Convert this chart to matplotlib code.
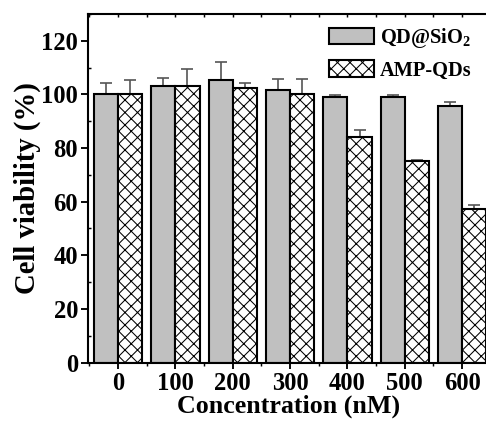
import numpy as np
import matplotlib
matplotlib.use("Agg")
import matplotlib.pyplot as plt
from matplotlib.ticker import MultipleLocator

conc = ["0", "100", "200", "300", "400", "500", "600"]
sio2 = [100.0, 103.3, 105.3, 101.5, 99.0, 99.1, 95.8]
sio2_err = [4.3, 3.0, 6.7, 4.4, 0.6, 0.5, 1.3]
amp = [100.0, 103.3, 102.2, 100.1, 84.2, 75.0, 57.1]
amp_err = [5.3, 6.0, 2.0, 5.8, 2.6, 0.7, 1.5]

plt.rcParams['font.family'] = 'Liberation Serif'
plt.rcParams['font.weight'] = 'bold'
plt.rcParams['mathtext.fontset'] = 'custom'
plt.rcParams['mathtext.bf'] = 'Liberation Serif:bold'
plt.rcParams['mathtext.rm'] = 'Liberation Serif:bold'
plt.rcParams['mathtext.default'] = 'bf'
plt.rcParams['hatch.linewidth'] = 0.5

dpi = 150
fig = plt.figure(figsize=(486 / dpi, 423 / dpi), dpi=dpi)
ax = fig.add_axes([0.182, 0.143, 0.822, 0.824])

x = np.arange(len(conc))
w = 0.42
ax.bar(x - w / 2, sio2, w, color='#c0c0c0', edgecolor='black', linewidth=1.0,
       label='QD@SiO$_2$', zorder=2)
ax.bar(x + w / 2, amp, w, color='white', edgecolor='black', linewidth=1.0,
       hatch='xxxx', label='AMP-QDs', zorder=2)
ax.errorbar(x - w / 2, sio2, yerr=[np.zeros(len(x)), sio2_err], fmt='none',
            ecolor='#555555', elinewidth=0.8, capsize=3, capthick=0.8, zorder=1)
ax.errorbar(x + w / 2, amp, yerr=[np.zeros(len(x)), amp_err], fmt='none',
            ecolor='#555555', elinewidth=0.8, capsize=3, capthick=0.8, zorder=1)

ax.set_xlim(-0.517, 6.45)
ax.set_ylim(0, 130)
ax.set_xticks(x)
ax.set_xticklabels(conc)
ax.xaxis.set_minor_locator(MultipleLocator(0.5))
ax.yaxis.set_major_locator(MultipleLocator(20))
ax.yaxis.set_minor_locator(MultipleLocator(10))

ax.spines['right'].set_visible(False)
for s in ['left', 'bottom', 'top']:
    ax.spines[s].set_linewidth(1.0)

ax.tick_params(axis='both', which='major', labelsize=11.8, width=0.9, length=3.5,
               direction='out', pad=1.5)
ax.tick_params(axis='x', which='major', length=3)
ax.tick_params(axis='both', which='minor', width=0.7, length=1.5, direction='in')
ax.tick_params(axis='x', which='minor', direction='out')

ax2 = ax.secondary_xaxis('top')
ax2.set_xticks(np.arange(-0.5, 6.5, 0.5))
ax2.tick_params(direction='in', length=1.5, width=0.7, labeltop=False)

ax.set_ylabel('Cell viability (%)', fontsize=13.8, fontweight='bold', labelpad=0)
ax.set_xlabel('Concentration (nM)', fontsize=12.5, fontweight='bold', labelpad=0)

ax.legend(loc='upper right', frameon=False, fontsize=9.8, handlelength=2.2,
          handleheight=0.85, handletextpad=0.3, borderaxespad=0.2, labelspacing=0.5,
          bbox_to_anchor=(0.99, 1.0))

fig.savefig('out.png', dpi=dpi)
